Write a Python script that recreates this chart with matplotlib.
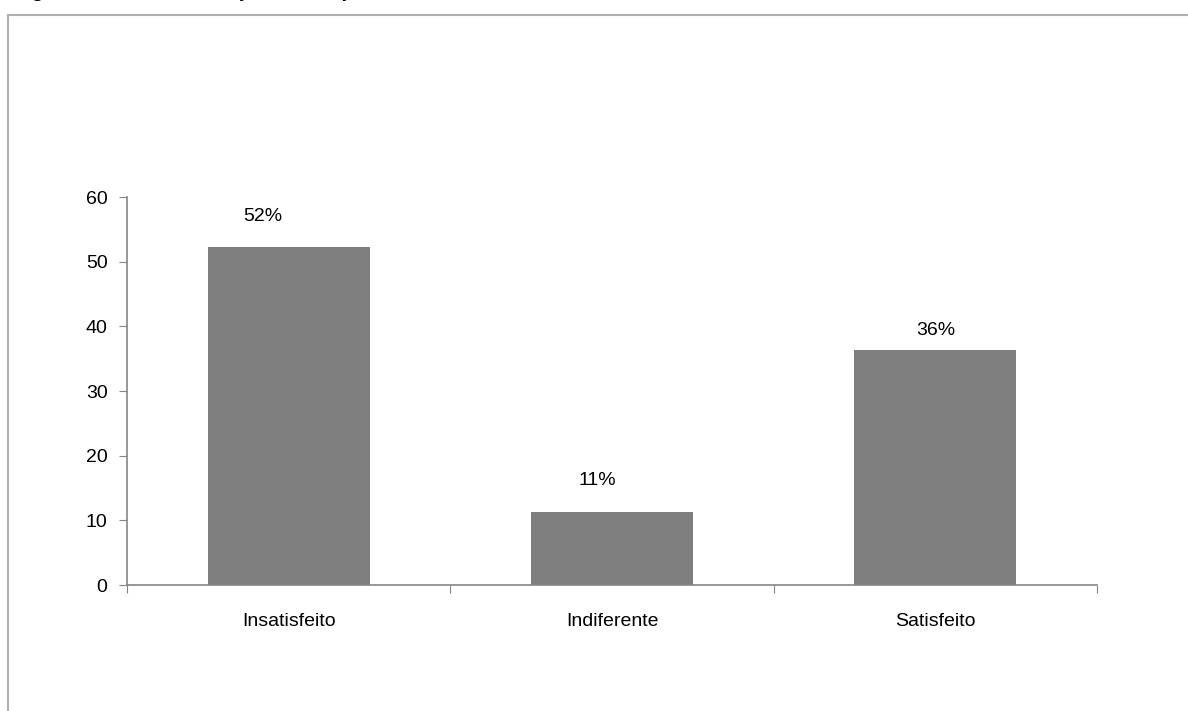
import matplotlib
matplotlib.use('Agg')
import matplotlib.pyplot as plt
from matplotlib.lines import Line2D

categories = ['Insatisfeito', 'Indiferente', 'Satisfeito']
values = [52.2, 11.3, 36.3]
labels = ['52%', '11%', '36%']

# deslocamento dos rótulos (px), como no gráfico original do Excel
label_dx = [-26, -15, 0]
label_dy = [31, 31, 20]

plt.rcParams['font.family'] = ['Liberation Sans', 'DejaVu Sans']

W, H = 1188, 711
fig = plt.figure(figsize=(W / 100, H / 100), dpi=100)

# moldura cortada (só topo e lado esquerdo aparecem)
fig.add_artist(Line2D([8 / W, 1], [1 - 15 / H, 1 - 15 / H], color='#b0b0b0', lw=1.5))
fig.add_artist(Line2D([8 / W, 8 / W], [0, 1 - 15 / H], color='#b0b0b0', lw=1.5))

# título cortado no topo
fig.text(12 / W, 1 + 4 / H, 'Figura 14 – Comunicação antes para o cliente a atrasos',
         fontsize=15.5, fontweight='bold', va='baseline', ha='left')

ax = fig.add_axes([127 / W, 1 - 585 / H, 970 / W, 388 / H])
x = range(len(categories))
ax.bar(x, values, width=0.5, color='#7f7f7f')
for i, v in enumerate(values):
    ax.annotate(labels[i], (i, v), xytext=(label_dx[i], label_dy[i]),
                textcoords='offset pixels', ha='center', va='center', fontsize=14)

ax.set_xlim(-0.5, 2.5)
ax.set_ylim(0, 60)
ax.set_yticks(range(0, 61, 10))
ax.set_xticks([-0.5, 0.5, 1.5, 2.5], minor=False)
ax.set_xticklabels([])
ax.set_xticks(list(x), minor=True)
ax.set_xticklabels(categories, minor=True)
ax.tick_params(axis='x', which='minor', length=0, pad=20, labelsize=14)
ax.tick_params(axis='x', which='major', length=6, direction='out', color='#868686')
ax.tick_params(axis='y', length=6, direction='out', color='#868686', labelsize=14, pad=8)

for s in ['top', 'right']:
    ax.spines[s].set_visible(False)
for s in ['left', 'bottom']:
    ax.spines[s].set_color('#868686')
    ax.spines[s].set_linewidth(1.2)

fig.savefig('out.png', dpi=100)
